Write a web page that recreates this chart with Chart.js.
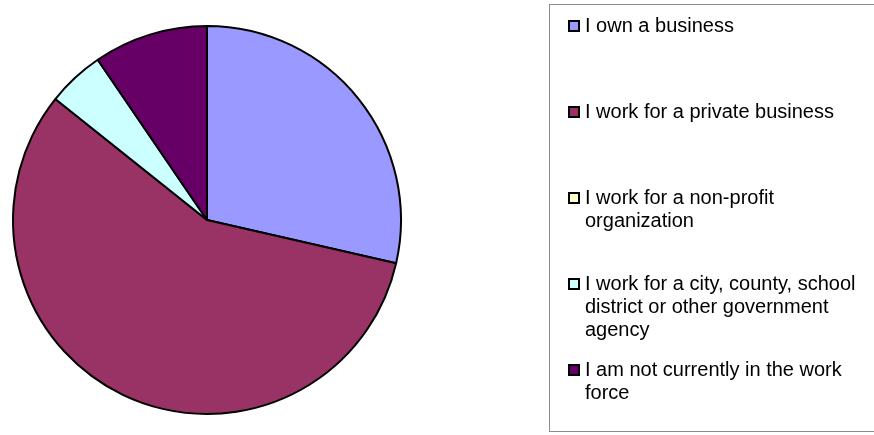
<!DOCTYPE html>
<html>
<head>
<meta charset="utf-8">
<script src="https://cdn.jsdelivr.net/npm/chart.js"></script>
<style>
    html, body { margin: 0; padding: 0; background: #fff; }
    #wrap { position: relative; width: 874px; height: 435px; overflow: hidden; }
    #trabajoChart { position: absolute; left: 0; top: 0; }
    #leyenda {
        position: absolute; left: 549px; top: 4px; width: 340px; height: 428px;
        border: 1px solid #8c8c8c; box-sizing: border-box;
        font-family: 'Liberation Sans', Arial, sans-serif; font-size: 20px; color: #000;
    }
    .item { position: absolute; left: 35px; width: 280px; line-height: 23px; }
    .item .txt { display: block; }
    .item .caja {
        position: absolute; left: -17px; top: 6px; width: 8px; height: 8px;
        border: 2px solid #000;
    }
</style>
</head>
<body>
<div id="wrap">
    <canvas id="trabajoChart" width="874" height="435"></canvas>
    <div id="leyenda"></div>
</div>
<script>
// Datos del gráfico (respuestas por categoría)
const categorias = [
    'I own a business',
    'I work for a private business',
    'I work for a non-profit organization',
    'I work for a city, county, school district or other government agency',
    'I am not currently in the work force'
];
const respuestas = [6, 12, 0, 1, 2];
const colores = ['#9999FF', '#993366', '#FFFFCC', '#CCFFFF', '#660066'];

// Crear el gráfico
function createTrabajoChart() {
    const ctx = document.getElementById('trabajoChart').getContext('2d');
    const chart = new Chart(ctx, {
        type: 'pie',
        data: {
            labels: categorias,
            datasets: [{
                data: respuestas,
                backgroundColor: colores,
                borderColor: '#000000',
                borderWidth: 2,
            }]
        },
        options: {
            responsive: false,
            animation: false,
            layout: {
                padding: { left: 12, top: 25, right: 472, bottom: 20 }
            },
            plugins: {
                legend: { display: false },
                tooltip: { enabled: false }
            }
        }
    });

    // Leyenda en HTML (igual que la de Excel: un elemento cada 86px)
    const leyenda = document.getElementById('leyenda');
    chart.data.labels.forEach(function (label, i) {
        const item = document.createElement('div');
        item.className = 'item';
        item.style.top = (9 + 86 * i) + 'px';
        const caja = document.createElement('span');
        caja.className = 'caja';
        caja.style.background = chart.data.datasets[0].backgroundColor[i];
        const txt = document.createElement('span');
        txt.className = 'txt';
        txt.textContent = label;
        item.appendChild(caja);
        item.appendChild(txt);
        leyenda.appendChild(item);
    });
}

createTrabajoChart();
</script>
</body>
</html>
